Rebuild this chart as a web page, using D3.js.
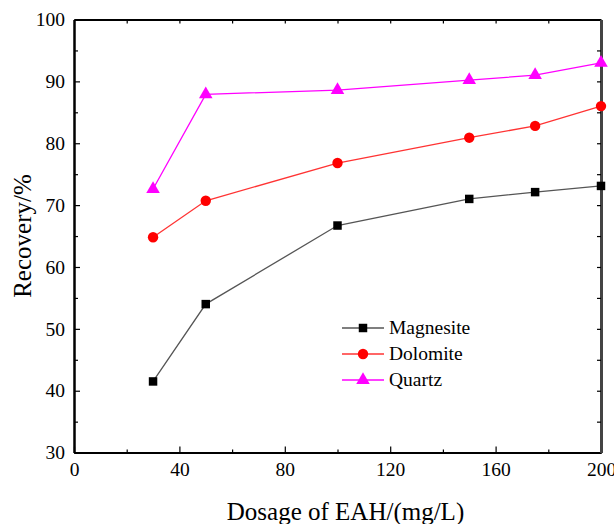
<!DOCTYPE html>
<html>
<head>
<meta charset="utf-8">
<script src="https://cdn.jsdelivr.net/npm/d3@7"></script>
<style>
  body { margin: 0; background: #fff; }
</style>
</head>
<body>
<script>
// data
var dosage = [30, 50, 100, 150, 175, 200];
var magnesite = [41.5, 54.0, 66.7, 71.0, 72.1, 73.1];
var dolomite = [64.8, 70.7, 76.8, 80.9, 82.8, 86.0];
var quartz = [72.6, 87.9, 88.6, 90.2, 91.0, 93.0];
var xTicks = [0, 40, 80, 120, 160, 200];
var yTicks = [30, 40, 50, 60, 70, 80, 90, 100];

var serif = 'Liberation Serif, serif';

var series = [
    {name: 'Magnesite', values: magnesite, line: '#555', fill: '#000', shape: d3.symbolSquare, size: 72},
    {name: 'Dolomite', values: dolomite, line: '#ff3333', fill: '#ff0000', shape: d3.symbolCircle, size: 85},
    {name: 'Quartz', values: quartz, line: '#ff00ff', fill: '#ff00ff', shape: d3.symbolTriangle, size: 80}
];

var W = 614, H = 524;
var pLeft = 74, pRight = 601, pTop = 19.5, pBottom = 452.6;

var svg = d3.select('body').append('svg')
    .attr('width', W).attr('height', H)
    .attr('font-family', serif);

var x = d3.scaleLinear().domain([0, 200]).range([pLeft, pRight]);
var y = d3.scaleLinear().domain([30, 100]).range([pBottom, pTop]);

// axes, ticks inward
var xAxis = svg.append('g').attr('transform', 'translate(0,' + pBottom + ')')
    .call(d3.axisBottom(x).tickValues(xTicks).tickSize(-6).tickPadding(10).tickSizeOuter(0));
var xMinor = svg.append('g').attr('transform', 'translate(0,' + pBottom + ')')
    .call(d3.axisBottom(x).tickValues([20, 60, 100, 140, 180]).tickSize(-3).tickFormat('').tickSizeOuter(0));
var xTop = svg.append('g').attr('transform', 'translate(0,' + pTop + ')')
    .call(d3.axisTop(x).tickValues([20, 40, 60, 80, 100, 120, 140, 160, 180]).tickSize(-4).tickFormat('').tickSizeOuter(0));

var yAxis = svg.append('g').attr('transform', 'translate(' + pLeft + ',0)')
    .call(d3.axisLeft(y).tickValues(yTicks).tickSize(-6).tickPadding(9).tickSizeOuter(0));
var yMinor = svg.append('g').attr('transform', 'translate(' + pLeft + ',0)')
    .call(d3.axisLeft(y).tickValues([35, 45, 55, 65, 75, 85, 95]).tickSize(-4).tickFormat('').tickSizeOuter(0));
var yRight = svg.append('g').attr('transform', 'translate(' + pRight + ',0)')
    .call(d3.axisRight(y).tickValues([35, 40, 45, 50, 55, 60, 65, 70, 75, 80, 85, 90, 95]).tickSize(-4).tickFormat('').tickSizeOuter(0));

svg.selectAll('g').attr('font-family', serif);
svg.selectAll('.domain').attr('stroke', '#000').attr('stroke-width', 2);
svg.selectAll('.tick line').attr('stroke', '#000').attr('stroke-width', 1.2);
svg.selectAll('.tick text').attr('font-size', 19.5).attr('fill', '#000')
    .attr('font-family', serif);
yRight.select('.domain').attr('stroke', '#444').attr('stroke-width', 3);

// lines and markers
var line = d3.line()
    .x(function(d, i) { return x(dosage[i]); })
    .y(function(d) { return y(d); });

series.forEach(function(s) {
    svg.append('path')
        .attr('d', line(s.values))
        .attr('fill', 'none')
        .attr('stroke', s.line)
        .attr('stroke-width', 1.3);
    svg.selectAll(null).data(s.values).enter().append('path')
        .attr('d', d3.symbol().type(s.shape).size(s.size))
        .attr('transform', function(d, i) { return 'translate(' + x(dosage[i]) + ',' + y(d) + ')'; })
        .attr('fill', s.fill);
});

// legend
var legend = svg.append('g').attr('transform', 'translate(342,328)');
series.forEach(function(s, i) {
    var g = legend.append('g').attr('transform', 'translate(0,' + (i * 26) + ')');
    g.append('line').attr('x1', 0).attr('x2', 42).attr('y1', 0).attr('y2', 0)
        .attr('stroke', s.line).attr('stroke-width', 1.3);
    g.append('path').attr('d', d3.symbol().type(s.shape).size(s.size))
        .attr('transform', 'translate(21,0)').attr('fill', s.fill);
    g.append('text').attr('x', 47).attr('y', 6)
        .attr('font-family', serif)
        .attr('font-size', 19.5).attr('fill', '#000').text(s.name);
});

// axis titles
svg.append('text')
    .attr('x', (pLeft + pRight) / 2 + 8).attr('y', 520)
    .attr('text-anchor', 'middle').attr('font-size', 25)
    .attr('font-family', serif)
    .text('Dosage of EAH/(mg/L)');

svg.append('text')
    .attr('transform', 'translate(31,' + (pBottom + pTop) / 2 + ') rotate(-90)')
    .attr('text-anchor', 'middle').attr('font-size', 25)
    .attr('font-family', serif)
    .text('Recovery/%');
</script>
</body>
</html>
